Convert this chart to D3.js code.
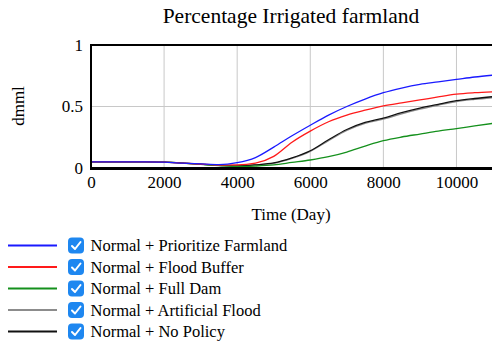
<!DOCTYPE html>
<html>
<head>
<meta charset="utf-8">
<script src="https://cdn.jsdelivr.net/npm/d3@7"></script>
<style>
  html, body { margin: 0; padding: 0; background: #fff; }
  svg { display: block; font-family: "Liberation Serif", "Times New Roman", serif; }
</style>
</head>
<body>
<svg id="chart" width="492" height="345"></svg>
<script>
// Simulation time (days) at which each series is sampled
const days = [0, 500, 1000, 1500, 2000, 2500, 3000, 3500, 4000, 4500, 5000, 5500,
              6000, 6500, 7000, 7500, 8000, 8500, 9000, 9500, 10000, 10500, 11000];

// Fraction of farmland irrigated, per scenario
const prioritizeFarmland = [0.05, 0.05, 0.05, 0.05, 0.047, 0.04, 0.033, 0.027, 0.043, 0.085, 0.17, 0.262,
                            0.348, 0.43, 0.50, 0.56, 0.612, 0.65, 0.68, 0.70, 0.72, 0.74, 0.755];
const floodBuffer        = [0.05, 0.05, 0.05, 0.05, 0.047, 0.04, 0.032, 0.024, 0.025, 0.04, 0.095, 0.21,
                            0.30, 0.376, 0.43, 0.47, 0.505, 0.53, 0.553, 0.578, 0.60, 0.612, 0.62];
const fullDam            = [0.05, 0.05, 0.05, 0.05, 0.047, 0.04, 0.03, 0.02, 0.012, 0.016, 0.025, 0.045,
                            0.065, 0.092, 0.13, 0.178, 0.222, 0.252, 0.276, 0.30, 0.32, 0.342, 0.363];
const artificialFlood    = [0.05, 0.05, 0.05, 0.05, 0.047, 0.04, 0.031, 0.022, 0.018, 0.025, 0.038, 0.078,
                            0.135, 0.222, 0.305, 0.362, 0.397, 0.44, 0.478, 0.51, 0.54, 0.558, 0.572];
const noPolicy           = [0.05, 0.05, 0.05, 0.05, 0.047, 0.04, 0.031, 0.022, 0.018, 0.026, 0.041, 0.082,
                            0.14, 0.23, 0.313, 0.37, 0.406, 0.45, 0.487, 0.518, 0.547, 0.565, 0.58];

const seriesNames  = ["Normal + Prioritize Farmland", "Normal + Flood Buffer", "Normal + Full Dam",
                      "Normal + Artificial Flood", "Normal + No Policy"];
const seriesColors = ["#1a1aff", "#ff1a1a", "#14901c", "#8c8c8c", "#111111"];
const seriesValues = [prioritizeFarmland, floodBuffer, fullDam, artificialFlood, noPolicy];

const xTicks = [0, 2000, 4000, 6000, 8000, 10000];
const yTicks = [0, 0.5, 1];

const svg = d3.select("#chart");
const plot = { left: 91, right: 493, top: 45, bottom: 168 };

const x = d3.scaleLinear().domain([0, 11000]).range([plot.left, plot.right]);
const y = d3.scaleLinear().domain([0, 1]).range([plot.bottom, plot.top]);

// Title
svg.append("text")
  .attr("x", 291).attr("y", 23)
  .attr("text-anchor", "middle")
  .attr("font-size", 21.5)
  .text("Percentage Irrigated farmland");

// Grid lines
const grid = svg.append("g").attr("stroke", "#c8c8c8").attr("stroke-width", 1);
grid.selectAll("line.vx").data(xTicks.filter(d => d > 0)).join("line")
  .attr("x1", d => x(d)).attr("x2", d => x(d))
  .attr("y1", plot.top).attr("y2", plot.bottom);
grid.selectAll("line.hy").data(yTicks.filter(d => d > 0 && d < 1)).join("line")
  .attr("x1", plot.left).attr("x2", plot.right)
  .attr("y1", d => y(d)).attr("y2", d => y(d));

// Series lines
const line = d3.line()
  .x((d, i) => x(days[i]))
  .y(d => y(d))
  .curve(d3.curveMonotoneX);

const drawOrder = [3, 4, 2, 1, 0];
svg.append("g").attr("fill", "none").attr("stroke-width", 1.3)
  .selectAll("path").data(drawOrder).join("path")
  .attr("stroke", i => seriesColors[i])
  .attr("d", i => line(seriesValues[i]));

// Frame: top, left and the heavier baseline
const frame = svg.append("g").attr("stroke", "#000");
frame.append("line").attr("x1", plot.left - 1).attr("x2", plot.right)
  .attr("y1", plot.top).attr("y2", plot.top).attr("stroke-width", 2);
frame.append("line").attr("x1", plot.left).attr("x2", plot.left)
  .attr("y1", plot.top - 1).attr("y2", plot.bottom + 1).attr("stroke-width", 2);
frame.append("line").attr("x1", plot.left - 1).attr("x2", plot.right)
  .attr("y1", plot.bottom + 0.5).attr("y2", plot.bottom + 0.5).attr("stroke-width", 3);

// Axes (labels only, no tick marks)
const xAxis = d3.axisBottom(x).tickValues(xTicks).tickSize(0).tickPadding(8).tickFormat(d3.format("d"));
const gx = svg.append("g").attr("transform", `translate(0,${plot.bottom})`).call(xAxis);
gx.select(".domain").remove();
gx.selectAll("text").attr("font-size", 17).attr("font-family", "Liberation Serif, serif").attr("fill", "#000");

const yAxis = d3.axisLeft(y).tickValues(yTicks).tickSize(0).tickPadding(8).tickFormat(d => d === 0.5 ? "0.5" : d3.format("d")(d));
const gy = svg.append("g").attr("transform", `translate(${plot.left},0)`).call(yAxis);
gy.select(".domain").remove();
gy.selectAll("text").attr("font-size", 17).attr("font-family", "Liberation Serif, serif").attr("fill", "#000");

// Axis titles
svg.append("text")
  .attr("x", 291).attr("y", 220)
  .attr("text-anchor", "middle")
  .attr("font-size", 17)
  .text("Time (Day)");
svg.append("text")
  .attr("transform", "translate(24,106) rotate(-90)")
  .attr("text-anchor", "middle")
  .attr("font-size", 17)
  .text("dmml");

// Legend with check boxes
const legend = svg.append("g");
const rows = legend.selectAll("g").data(seriesNames).join("g")
  .attr("transform", (d, i) => `translate(0,${245.5 + i * 21.5})`);
rows.append("line")
  .attr("x1", 8).attr("x2", 57).attr("y1", 0).attr("y2", 0)
  .attr("stroke", (d, i) => seriesColors[i]).attr("stroke-width", 2);
rows.append("rect")
  .attr("x", 68).attr("y", -8).attr("width", 16).attr("height", 16).attr("rx", 4)
  .attr("fill", "#1e87f0");
rows.append("path")
  .attr("d", "M72,0.5 L75,3.5 L80.5,-3.5")
  .attr("fill", "none").attr("stroke", "#fff").attr("stroke-width", 2)
  .attr("stroke-linecap", "round").attr("stroke-linejoin", "round");
rows.append("text")
  .attr("x", 90.5).attr("y", 5.5)
  .attr("font-size", 16.5)
  .text(d => d);
</script>
</body>
</html>
